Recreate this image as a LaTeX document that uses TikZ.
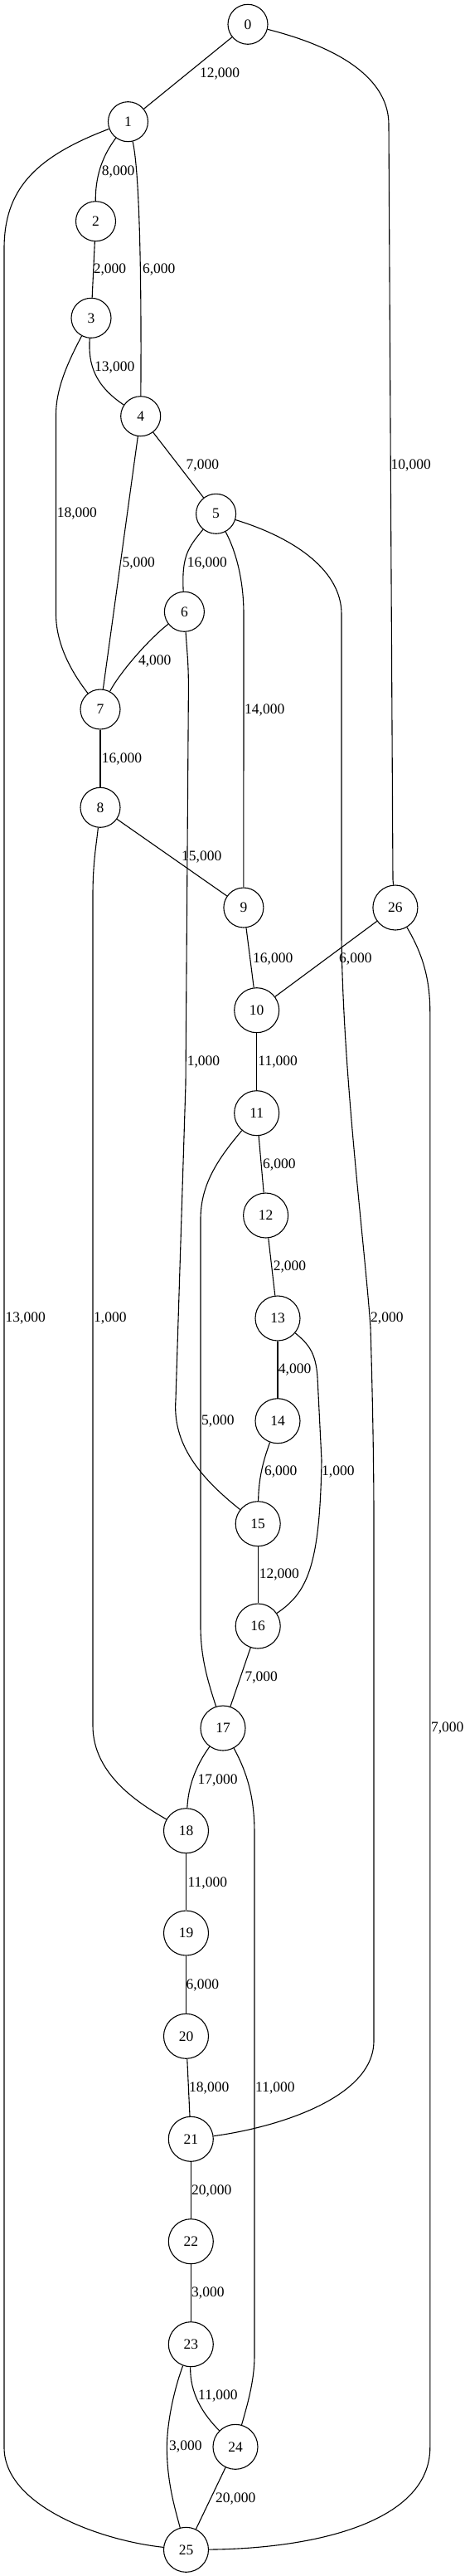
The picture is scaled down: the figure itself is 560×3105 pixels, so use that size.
\documentclass[tikz,border=0pt]{standalone}
\usepackage{fontspec}
\setmainfont{Liberation Serif}
\begin{document}
\begin{tikzpicture}[x=1pt,y=-1pt,
  vtx/.style={circle,draw,line width=1.1pt,minimum size=48pt,inner sep=0pt,font=\fontsize{17.5}{21}\selectfont},
  vtxb/.style={vtx,minimum size=54pt},
  lbl/.style={anchor=west,inner sep=0pt,font=\fontsize{17.5}{21}\selectfont},
  conn/.style={line width=1.1pt}]
\useasboundingbox (0,0) rectangle (560,3105);
% nodes
\node[vtx] (n0) at (299,29.3) {0};
\node[vtx] (n1) at (154.5,146.7) {1};
\node[vtx] (n2) at (115.5,266.7) {2};
\node[vtx] (n3) at (110,383.3) {3};
\node[vtx] (n4) at (169.7,501.7) {4};
\node[vtx] (n5) at (260.6,619.3) {5};
\node[vtx] (n6) at (222.4,737.3) {6};
\node[vtx] (n7) at (121,855) {7};
\node[vtx] (n8) at (121,973.3) {8};
\node[vtx] (n9) at (293.9,1094) {9};
\node[vtxb] (n26) at (476.9,1094) {26};
\node[vtxb] (n10) at (309.7,1217.7) {10};
\node[vtxb] (n11) at (309.7,1341.7) {11};
\node[vtxb] (n12) at (320.6,1465) {12};
\node[vtxb] (n13) at (335,1589) {13};
\node[vtxb] (n14) at (335,1712.7) {14};
\node[vtxb] (n15) at (311.2,1836.7) {15};
\node[vtxb] (n16) at (311.2,1960) {16};
\node[vtxb] (n17) at (269,2083) {17};
\node[vtxb] (n18) at (224.5,2206.7) {18};
\node[vtxb] (n19) at (224.5,2330) {19};
\node[vtxb] (n20) at (224.5,2454.3) {20};
\node[vtxb] (n21) at (230.3,2578.3) {21};
\node[vtxb] (n22) at (230.3,2701.7) {22};
\node[vtxb] (n23) at (230.3,2825.7) {23};
\node[vtxb] (n24) at (284,2949.3) {24};
\node[vtxb] (n25) at (224.5,3073.3) {25};
% edges
\draw[conn] (n0) -- (n1);
\draw[conn] (n0) .. controls (420,60) and (469,100) .. (469,150) -- (474,1060) -- (n26);
\draw[conn] (n1) .. controls (122,190) and (115,215) .. (n2);
\draw[conn] (n1) .. controls (167,200) and (171,300) .. (n4);
\draw[conn] (n1) .. controls (40,190) and (5,230) .. (5,300) -- (5,2950) .. controls (5,3020) and (120,3062) .. (n25);
\draw[conn] (n2) -- (n3);
\draw[conn] (n3) .. controls (106,440) and (115,465) .. (n4);
\draw[conn] (n3) .. controls (80,440) and (67.5,470) .. (67.5,500) -- (67.5,740) .. controls (67.5,780) and (90,815) .. (n7);
\draw[conn] (n4) -- (n5);
\draw[conn] (n4) -- (n7);
\draw[conn] (n5) .. controls (227,660) and (219,670) .. (n6);
\draw[conn] (n5) .. controls (285,665) and (294,700) .. (294,740) -- (n9);
\draw[conn] (n5) .. controls (360,650) and (412,690) .. (412,740) -- (412,1130) .. controls (414,1300) and (440,1500) .. (447,1600) .. controls (450,1700) and (451,1780) .. (451,1830) -- (451,2460) .. controls (451,2530) and (330,2565) .. (n21);
\draw[conn] (n6) .. controls (180,770) and (145,810) .. (n7);
\draw[conn] (n6) .. controls (226,790) and (227.4,800) .. (227.4,830) -- (224,1307) -- (212,1687) .. controls (208,1740) and (240,1780) .. (n15);
\draw[conn] (n7) -- (n8);
\draw[conn] (n8) -- (n9);
\draw[conn] (n8) .. controls (116,1020) and (112,1040) .. (112,1080) -- (112,2080) .. controls (112,2140) and (170,2175) .. (n18);
\draw[conn] (n9) -- (n10);
\draw[conn] (n26) -- (n10);
\draw[conn] (n26) .. controls (510,1150) and (518.8,1180) .. (518.8,1220) -- (518.8,2950) .. controls (518.8,3040) and (380,3072) .. (n25);
\draw[conn] (n10) -- (n11);
\draw[conn] (n11) -- (n12);
\draw[conn] (n11) .. controls (260,1400) and (242,1430) .. (242,1470) -- (242,1960) .. controls (242,2000) and (252,2030) .. (n17);
\draw[conn] (n12) -- (n13);
\draw[conn] (n13) -- (n14);
\draw[conn] (n13) .. controls (372,1620) and (381,1630) .. (383,1660) -- (388,1760) .. controls (386,1890) and (370,1920) .. (n16);
\draw[conn] (n14) .. controls (316,1765) and (312,1785) .. (n15);
\draw[conn] (n15) -- (n16);
\draw[conn] (n16) -- (n17);
\draw[conn] (n17) .. controls (235,2130) and (227,2155) .. (n18);
\draw[conn] (n17) .. controls (300,2140) and (307,2170) .. (307,2210) -- (307,2840) .. controls (307,2870) and (298,2900) .. (n24);
\draw[conn] (n18) -- (n19);
\draw[conn] (n19) -- (n20);
\draw[conn] (n20) -- (n21);
\draw[conn] (n21) -- (n22);
\draw[conn] (n22) -- (n23);
\draw[conn] (n23) .. controls (229,2885) and (245,2910) .. (n24);
\draw[conn] (n23) .. controls (210,2880) and (201.4,2920) .. (201.4,2950) .. controls (201.4,2990) and (210,3020) .. (n25);
\draw[conn] (n24) -- (n25);
% labels
\node[lbl] (l0-1) at (240.8,89.3) {12,000};
\node[lbl] (l1-2) at (122.7,207.3) {8,000};
\node[lbl] (l1-4) at (171.8,325) {6,000};
\node[lbl] (l2-3) at (112.6,325) {2,000};
\node[lbl] (l3-4) at (114,442.7) {13,000};
\node[lbl] (l4-5) at (224.5,561) {7,000};
\node[lbl] (l0-26) at (471.5,561) {10,000};
\node[lbl] (l3-7) at (68.6,619.3) {18,000};
\node[lbl] (l4-7) at (147.3,678.7) {5,000};
\node[lbl] (l5-6) at (225.6,678.7) {16,000};
\node[lbl] (l6-7) at (166.8,796.7) {4,000};
\node[lbl] (l5-9) at (295,856) {14,000};
\node[lbl] (l7-8) at (122.7,915) {16,000};
\node[lbl] (l8-9) at (219,1032.7) {15,000};
\node[lbl] (l9-10) at (305,1156) {16,000};
\node[lbl] (l26-10) at (409,1156) {6,000};
\node[lbl] (l6-15) at (225.6,1280) {1,000};
\node[lbl] (l10-11) at (311.2,1280) {11,000};
\node[lbl] (l11-12) at (317,1404) {6,000};
\node[lbl] (l12-13) at (329.6,1526.7) {2,000};
\node[lbl] (l1-25) at (6.5,1589) {13,000};
\node[lbl] (l8-18) at (113,1589) {1,000};
\node[lbl] (l5-21) at (447,1589) {2,000};
\node[lbl] (l13-14) at (335.7,1651) {4,000};
\node[lbl] (l11-17) at (243,1712.7) {5,000};
\node[lbl] (l14-15) at (318.8,1774.3) {6,000};
\node[lbl] (l13-16) at (388,1774.3) {1,000};
\node[lbl] (l15-16) at (312.6,1898.3) {12,000};
\node[lbl] (l16-17) at (295.3,2021.7) {7,000};
\node[lbl] (l26-25) at (519.9,2083.3) {7,000};
\node[lbl] (l17-18) at (238.3,2146) {17,000};
\node[lbl] (l18-19) at (226.4,2270) {11,000};
\node[lbl] (l19-20) at (224.5,2392.7) {6,000};
\node[lbl] (l20-21) at (228,2516.7) {18,000};
\node[lbl] (l17-24) at (308,2516.7) {11,000};
\node[lbl] (l21-22) at (231,2641) {20,000};
\node[lbl] (l22-23) at (231,2764) {3,000};
\node[lbl] (l23-24) at (239,2888.3) {11,000};
\node[lbl] (l23-25) at (204,2949.3) {3,000};
\node[lbl] (l24-25) at (260,3012.3) {20,000};
\end{tikzpicture}
\end{document}
